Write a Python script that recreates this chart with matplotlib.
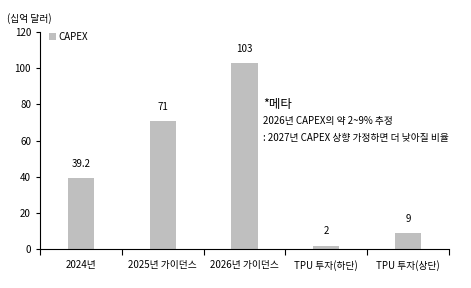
import matplotlib.pyplot as plt
import numpy as np

plt.rcParams['font.family'] = ['Noto Sans CJK KR', 'DejaVu Sans']

# data
categories = ['2024년', '2025년 가이던스', '2026년 가이던스', 'TPU 투자(하단)', 'TPU 투자(상단)']
capex = [39.2, 71, 103, 2, 9]
value_labels = ['39.2', '71', '103', '2', '9']

fig = plt.figure(figsize=(4.71, 2.88), dpi=100)
ax = fig.add_axes([0.085, 0.135, 0.868, 0.754])

x = np.arange(len(categories))
ax.bar(x, capex, width=0.32, color='#bfbfbf', label='CAPEX')

for xi, v, lab in zip(x, capex, value_labels):
    ax.text(xi, v + 5, lab, ha='center', va='bottom', fontsize=7)

ax.set_xlim(-0.5, len(categories) - 0.5)
ax.set_ylim(0, 120)
ax.set_yticks(range(0, 121, 20))
ax.set_xticks(np.arange(-0.5, len(categories), 1))
ax.set_xticklabels([])
ax.set_xticks(x, minor=True)
ax.set_xticklabels(categories, minor=True, fontsize=7)
ax.tick_params(axis='x', which='minor', length=0, pad=8)
ax.tick_params(axis='x', which='major', length=4, direction='out')
ax.tick_params(axis='y', labelsize=7, length=3)

for s in ['top', 'right']:
    ax.spines[s].set_visible(False)

ax.legend(loc='upper left', bbox_to_anchor=(0.0, 1.04), frameon=False, fontsize=7,
          handlelength=0.7, handleheight=0.7, handletextpad=0.3)

fig.text(0.015, 0.925, '(십억 달러)', fontsize=7)
ax.text(2.23, 78, '*메타', fontsize=9)
ax.text(2.23, 69, '2026년 CAPEX의 약 2~9% 추정', fontsize=7)
ax.text(2.23, 60, ': 2027년 CAPEX 상향 가정하면 더 낮아질 비율', fontsize=7)

fig.savefig('out.png', dpi=100)
